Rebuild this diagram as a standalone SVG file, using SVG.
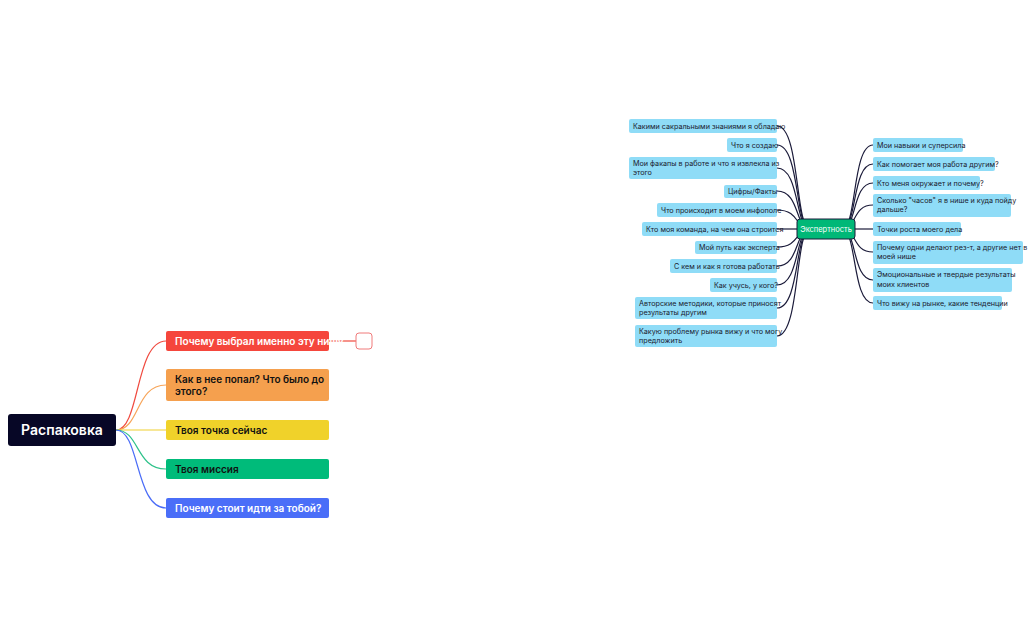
<svg xmlns="http://www.w3.org/2000/svg" width="1031" height="638" viewBox="0 0 1031 638">
<style>
text{font-family:"Inter","Liberation Sans",sans-serif}
.l{font-size:10px;font-weight:600}
.s{font-size:7.2px;fill:#1a1a2e}
.b{fill:#8fdcf7}
.c path{fill:none;stroke-width:1.2}
.d{stroke:#1b1b3a}
</style>
<rect width="1031" height="638" fill="#fff"/>
<g class="c" id="connectors">
<path d="M116 430 C140 430 135 341 166 341" stroke="#f04a3f"/>
<path d="M116 430 C140 430 135 385 166 385" stroke="#f7a55a"/>
<path d="M116 430 H166" stroke="#f0d030"/>
<path d="M116 430 C140 430 135 469 166 469" stroke="#2ec28a"/>
<path d="M116 430 C140 430 135 508 166 508" stroke="#4a6cf7"/>
<path d="M329 341 H356" stroke="#f04a3f"/>
<g class="d">
<path d="M810 229 C795 229 800 126 777 126"/>
<path d="M810 229 C795 229 800 145 777 145"/>
<path d="M810 229 C795 229 800 168 777 168"/>
<path d="M810 229 C795 229 800 191 777 191"/>
<path d="M810 229 C795 229 800 210 777 210"/>
<path d="M797 229 H777"/>
<path d="M810 229 C795 229 800 247 777 247"/>
<path d="M810 229 C795 229 800 266 777 266"/>
<path d="M810 229 C795 229 800 285 777 285"/>
<path d="M810 229 C795 229 800 308 777 308"/>
<path d="M810 229 C795 229 800 336 777 336"/>
<path d="M842 229 C857 229 852 145 873 145"/>
<path d="M842 229 C857 229 852 164 873 164"/>
<path d="M842 229 C857 229 852 183 873 183"/>
<path d="M842 229 C857 229 852 205 873 205"/>
<path d="M855 229 H873"/>
<path d="M842 229 C857 229 852 252 873 252"/>
<path d="M842 229 C857 229 852 280 873 280"/>
<path d="M842 229 C857 229 852 303 873 303"/>
</g>
</g>
<g id="root"><rect x="8" y="414" width="108" height="32" rx="3" fill="#070726"/><text x="62" y="435" font-size="14" font-weight="600" fill="#fff" text-anchor="middle">Распаковка</text></g>
<g id="n1"><rect x="166" y="331" width="163" height="20" rx="2" fill="#f5463c"/><text class="l" x="175" y="345" fill="#fff">Почему выбрал именно эту нишу</text></g>
<g id="n1a"><rect x="356" y="333" width="16" height="16" rx="3" fill="#fff" stroke="#f07a7a"/></g>
<g id="n2"><rect x="166" y="369" width="163" height="32" rx="2" fill="#f5a04e"/><text class="l" x="175" y="383" fill="#111">Как в нее попал? Что было до</text><text class="l" x="175" y="395" fill="#111">этого?</text></g>
<g id="n3"><rect x="166" y="420" width="163" height="20" rx="2" fill="#f0d22a"/><text class="l" x="175" y="434" fill="#111">Твоя точка сейчас</text></g>
<g id="n4"><rect x="166" y="459" width="163" height="20" rx="2" fill="#00bb7a"/><text class="l" x="175" y="473" fill="#111">Твоя миссия</text></g>
<g id="n5"><rect x="166" y="498" width="163" height="20" rx="2" fill="#4a6ef8"/><text class="l" x="175" y="512" fill="#fff">Почему стоит идти за тобой?</text></g>
<g id="center"><rect x="797" y="219" width="58" height="20" rx="3" fill="#00b877" stroke="#1b1b3a"/><text x="826" y="232" font-size="7.5" fill="#fff" text-anchor="middle">Экспертность</text></g>
<g id="L1"><rect class="b" x="629" y="119" width="148" height="14" rx="2"/><text class="s" x="633" y="129">Какими сакральными знаниями я обладаю</text></g>
<g id="L2"><rect class="b" x="727" y="138" width="50" height="14" rx="2"/><text class="s" x="731" y="148">Что я создаю</text></g>
<g id="L3"><rect class="b" x="629" y="157" width="148" height="22" rx="2"/><text class="s" x="633" y="166">Мои факапы в работе и что я извлекла из</text><text class="s" x="633" y="175">этого</text></g>
<g id="L4"><rect class="b" x="724" y="185" width="53" height="13" rx="2"/><text class="s" x="728" y="194">Цифры/Факты</text></g>
<g id="L5"><rect class="b" x="657" y="203" width="120" height="14" rx="2"/><text class="s" x="661" y="213">Что происходит в моем инфополе</text></g>
<g id="L6"><rect class="b" x="642" y="222" width="135" height="14" rx="2"/><text class="s" x="646" y="232">Кто моя команда, на чем она строится</text></g>
<g id="L7"><rect class="b" x="695" y="241" width="82" height="13" rx="2"/><text class="s" x="699" y="250">Мой путь как эксперта</text></g>
<g id="L8"><rect class="b" x="670" y="259" width="107" height="14" rx="2"/><text class="s" x="674" y="269">С кем и как я готова работать</text></g>
<g id="L9"><rect class="b" x="710" y="278" width="67" height="14" rx="2"/><text class="s" x="714" y="288">Как учусь, у кого?</text></g>
<g id="L10"><rect class="b" x="635" y="297" width="142" height="22" rx="2"/><text class="s" x="639" y="306">Авторские методики, которые приносят</text><text class="s" x="639" y="315">результаты другим</text></g>
<g id="L11"><rect class="b" x="635" y="325" width="142" height="22" rx="2"/><text class="s" x="639" y="334">Какую проблему рынка вижу и что могу</text><text class="s" x="639" y="343">предложить</text></g>
<g id="R1"><rect class="b" x="873" y="138" width="90" height="14" rx="2"/><text class="s" x="877" y="148">Мои навыки и суперсила</text></g>
<g id="R2"><rect class="b" x="873" y="157" width="122" height="14" rx="2"/><text class="s" x="877" y="167">Как помогает моя работа другим?</text></g>
<g id="R3"><rect class="b" x="873" y="176" width="107" height="14" rx="2"/><text class="s" x="877" y="186">Кто меня окружает и почему?</text></g>
<g id="R4"><rect class="b" x="873" y="194" width="138" height="23" rx="2"/><text class="s" x="877" y="203">Сколько "часов" я в нише и куда пойду</text><text class="s" x="877" y="212">дальше?</text></g>
<g id="R5"><rect class="b" x="873" y="222" width="88" height="14" rx="2"/><text class="s" x="877" y="232">Точки роста моего дела</text></g>
<g id="R6"><rect class="b" x="873" y="241" width="150" height="23" rx="2"/><text class="s" x="877" y="250">Почему одни делают рез-т, а другие нет в</text><text class="s" x="877" y="259">моей нише</text></g>
<g id="R7"><rect class="b" x="873" y="268" width="139" height="24" rx="2"/><text class="s" x="877" y="277">Эмоциональные и твердые результаты</text><text class="s" x="877" y="287">моих клиентов</text></g>
<g id="R8"><rect class="b" x="873" y="296" width="129" height="14" rx="2"/><text class="s" x="877" y="306">Что вижу на рынке, какие тенденции</text></g>
</svg>
